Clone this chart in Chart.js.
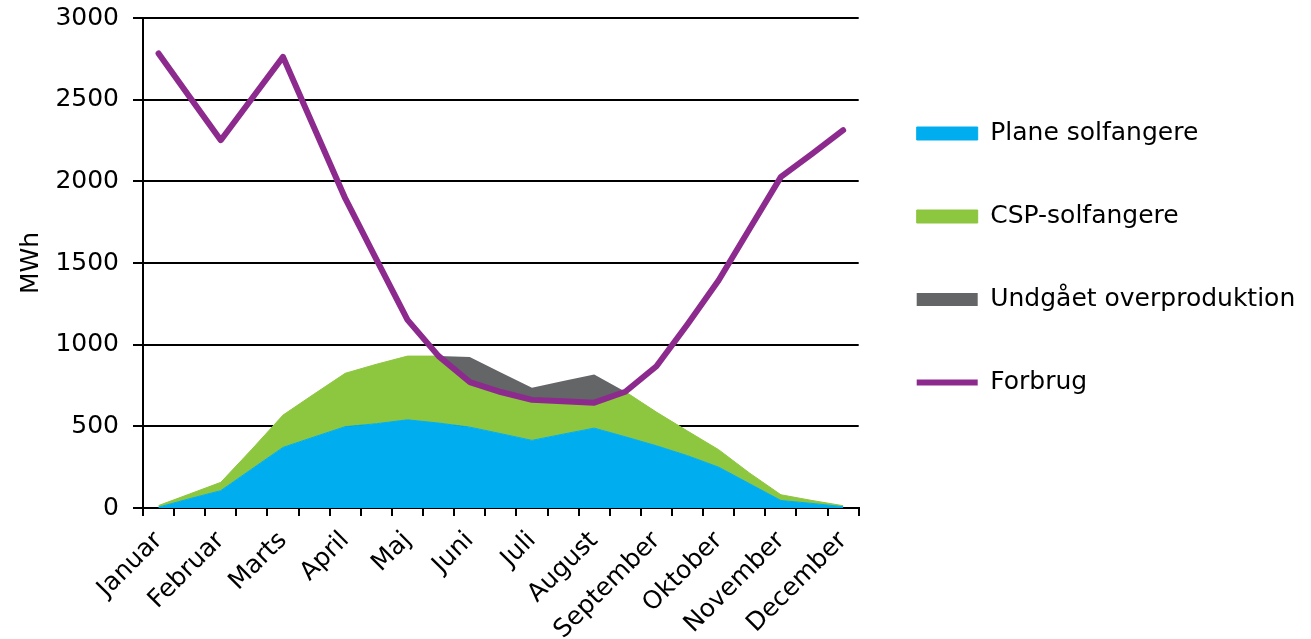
<!DOCTYPE html>
<html>
<head>
<meta charset="utf-8">
<script src="https://cdn.jsdelivr.net/npm/chart.js@4.4.1/dist/chart.umd.min.js"></script>
<style>
html,body{margin:0;padding:0;background:#fff;}
#wrap{width:1311px;height:639px;position:relative;}
</style>
</head>
<body>
<div id="wrap"><canvas id="c" width="1311" height="639"></canvas></div>
<script>
// Months (every month plus one in-between point on the category axis)
const months = ['Januar','Februar','Marts','April','Maj','Juni','Juli','August','September','Oktober','November','December'];
const categories = months.flatMap((m, i) => i < months.length - 1 ? [m, ''] : [m]);

// Series values (MWh), 23 points: month, between, month, ...
const planeSolfangere = [5, 57, 106, 239, 371, 435, 498, 516, 540, 520, 495, 455, 414, 452, 489, 436, 381, 320, 250, 148, 46, 28, 8];
const cspSolfangere   = [10, 29, 51, 121, 198, 263, 327, 364, 390, 410, 276, 255, 249, 202, 159, 276, 206, 151, 107, 65, 35, 18, 6];
const undgaaetOverproduktion = [0, 0, 0, 0, 0, 0, 0, 0, 0, 0, 153, 120, 73, 123, 170, 0, 0, 0, 0, 0, 0, 0, 0];
const forbrug = [2783, 2517, 2252, 2507, 2762, 2328, 1895, 1522, 1152, 930, 771, 710, 662, 654, 645, 712, 868, 1125, 1394, 1711, 2027, 2168, 2313];

const yMin = 0, yMax = 3000, yStep = 500;
const seriesNames = ['Plane solfangere', 'CSP-solfangere', 'Undgået overproduktion', 'Forbrug'];

const FONT = 'DejaVu Sans';
const FS = 25;
const LEGEND_W = 452.3;
const C_BLUE = '#00AEEF', C_GREEN = '#8DC63F', C_GRAY = '#646567', C_PURPLE = '#8D2A8E';

const legendTweak = {
  id: 'legendTweak',
  beforeLayout(chart) {
    const l = chart.legend;
    if (l && !l._wPatched) {
      const orig = l.fit.bind(l);
      l.fit = function () { orig(); this.width = LEGEND_W; };
      l._wPatched = true;
    }
  },
  afterLayout(chart) {
    const l = chart.legend;
    if (l) { l.top -= 5; l.bottom -= 5; }
  }
};

new Chart(document.getElementById('c'), {
  type: 'line',
  data: {
    labels: categories,
    datasets: [
      { label: seriesNames[0], data: planeSolfangere, stack: 'prod', fill: 'origin',
        backgroundColor: C_BLUE, borderColor: C_BLUE, borderWidth: 1,
        pointRadius: 0, pointHoverRadius: 0, pointStyle: 'rect', tension: 0 },
      { label: seriesNames[1], data: cspSolfangere, stack: 'prod', fill: '-1',
        backgroundColor: C_GREEN, borderColor: C_GREEN, borderWidth: 1,
        pointRadius: 0, pointHoverRadius: 0, pointStyle: 'rect', tension: 0 },
      { label: seriesNames[2], data: undgaaetOverproduktion, stack: 'prod', fill: '-1',
        backgroundColor: C_GRAY, borderColor: C_GRAY, borderWidth: 0,
        pointRadius: 0, pointHoverRadius: 0, pointStyle: 'rect', tension: 0 },
      { label: seriesNames[3], data: forbrug, stack: 'use', fill: false, order: -1,
        backgroundColor: C_PURPLE, borderColor: C_PURPLE, borderWidth: 6,
        borderCapStyle: 'round', borderJoinStyle: 'round',
        pointRadius: 0, pointHoverRadius: 0, pointStyle: 'line', tension: 0 }
    ]
  },
  options: {
    responsive: false,
    animation: false,
    devicePixelRatio: 1,
    layout: { padding: { top: 18, right: 0, bottom: 0, left: 0 } },
    plugins: {
      tooltip: { enabled: false },
      legend: {
        position: 'right',
        align: 'center',
        fullSize: false,
        labels: {
          usePointStyle: true,
          pointStyleWidth: 61,
          boxWidth: 61,
          boxHeight: 13,
          padding: 58,
          color: '#000',
          font: { family: FONT, size: FS },
          sort: (a, b) => a.datasetIndex - b.datasetIndex
        }
      }
    },
    scales: {
      x: {
        type: 'category',
        offset: true,
        afterFit: s => { s.height = 131; s.paddingLeft = 0; s.paddingRight = 0; },
        grid: { display: true, offset: true, drawOnChartArea: false, drawTicks: true,
                tickLength: 8, color: '#000', lineWidth: 2 },
        border: { display: true, color: '#000', width: 2 },
        ticks: { autoSkip: false, maxRotation: 45, minRotation: 45, padding: 10,
                 labelOffset: 0, color: '#000', font: { family: FONT, size: FS } }
      },
      y: {
        stacked: true,
        min: yMin, max: yMax,
        afterFit: s => { s.width = 143; s.paddingTop = 0; s.paddingBottom = 0; },
        grid: { color: '#000', lineWidth: 2, drawTicks: true, tickLength: 10 },
        border: { display: true, color: '#000', width: 2 },
        ticks: { stepSize: yStep, padding: 14, color: '#000', font: { family: FONT, size: FS },
                 callback: v => String(v) },
        title: { display: true, text: 'MWh', color: '#000', font: { family: FONT, size: FS },
                 padding: { top: 16, bottom: 13 } }
      }
    }
  },
  plugins: [legendTweak]
});
</script>
</body>
</html>
